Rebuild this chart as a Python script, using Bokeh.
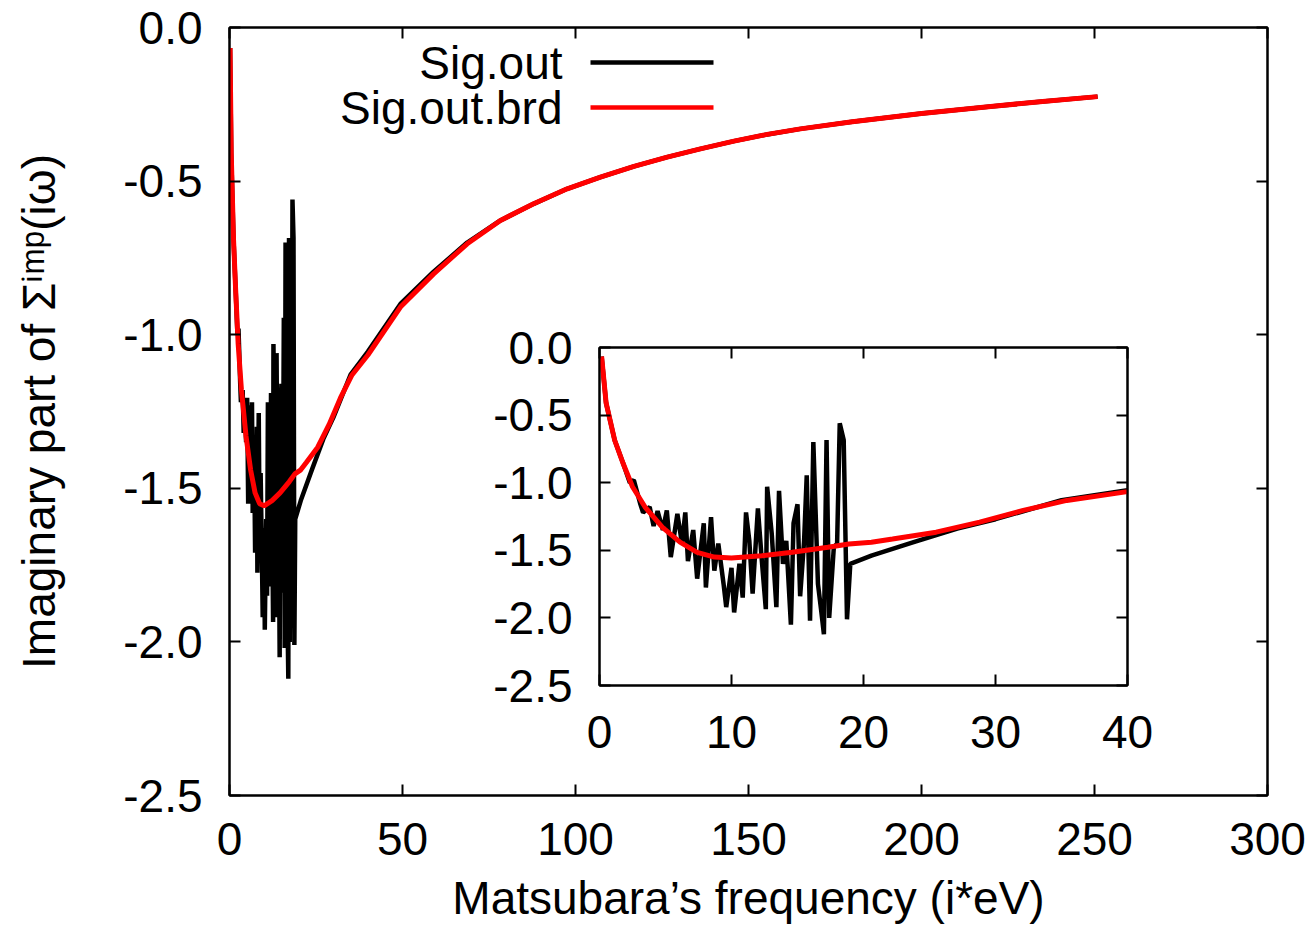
from bokeh.plotting import figure
from bokeh.models import (Range1d, LinearAxis, FixedTicker, PrintfTickFormatter, Label,
                          Arrow, GridBox)
from bokeh.embed import file_html
from bokeh.resources import INLINE

# ---------------- data ----------------
sig_x = [0.16, 0.5, 1.15, 1.8, 2.3, 2.6, 3.1, 3.3, 3.8, 4.1, 4.4, 4.8, 5.1, 5.4, 5.9,
         6.25, 6.5, 6.7, 7.1, 7.4, 7.9, 8.06, 8.45, 8.7, 9.0, 9.4, 9.6, 10.0, 10.2,
         10.6, 10.85, 11.1, 11.35, 11.6, 12.0, 12.3, 12.6, 12.7, 13.05, 13.4, 13.6,
         13.9, 14.15, 14.5, 14.7, 15.0, 15.2, 15.5, 15.7, 15.95, 16.2, 16.55, 16.8,
         17.0, 17.2, 17.4, 17.75, 18.0, 18.2, 18.5, 18.75, 19.0, 20.6, 23.8, 27.1,
         30.0, 35.0, 40.0, 49.4, 59.0, 68.7, 78.3, 87.9, 97.6, 107.2, 116.9, 126.5,
         136.1, 145.8, 155.4, 165.0, 180.0, 200.0, 220.0, 235.0, 250.9]
sig_y = [-0.067, -0.41, -0.686, -0.86, -1.0, -0.98, -1.16, -1.22, -1.18, -1.32, -1.21,
         -1.35, -1.205, -1.55, -1.23, -1.45, -1.22, -1.58, -1.35, -1.71, -1.30, -1.775,
         -1.255, -1.65, -1.45, -1.75, -1.92, -1.63, -1.96, -1.60, -1.85, -1.22, -1.43,
         -1.82, -1.19, -1.58, -1.935, -1.03, -1.38, -1.92, -1.06, -1.60, -1.43, -2.05,
         -1.30, -1.16, -1.84, -1.43, -0.945, -2.02, -0.70, -1.75, -1.95, -2.12, -0.685,
         -2.0, -1.48, -1.45, -0.56, -0.685, -2.01, -1.60, -1.54, -1.44, -1.34,
         -1.27, -1.13, -1.055, -0.90, -0.795, -0.70, -0.628, -0.574, -0.525, -0.487,
         -0.452, -0.422, -0.395, -0.370, -0.348, -0.330, -0.307, -0.280, -0.257,
         -0.241, -0.225]

brd_x = [0.16, 0.5, 1.15, 1.8, 2.5, 3.45, 4.77, 6.1, 7.4, 8.7, 10.0, 12.3, 14.6, 17.3,
         18.9, 20.6, 22.2, 25.5, 28.8, 32.1, 35.4, 40.0, 49.4, 59.0, 68.7, 78.3, 87.9,
         97.6, 107.2, 116.9, 126.5, 136.1, 145.8, 155.4, 165.0, 180.0, 200.0, 220.0,
         235.0, 250.9]
brd_y = [-0.067, -0.41, -0.686, -0.86, -1.03, -1.18, -1.33, -1.44, -1.515, -1.55,
         -1.557, -1.54, -1.515, -1.478, -1.453, -1.44, -1.416, -1.366, -1.292, -1.205,
         -1.131, -1.066, -0.910, -0.802, -0.704, -0.628, -0.574, -0.525, -0.487,
         -0.452, -0.422, -0.395, -0.370, -0.348, -0.330, -0.307, -0.280, -0.257,
         -0.241, -0.225]

main_xticks = [0, 50, 100, 150, 200, 250, 300]
main_yticks = [0.0, -0.5, -1.0, -1.5, -2.0, -2.5]
inset_xticks = [0, 10, 20, 30, 40]
inset_yticks = [0.0, -0.5, -1.0, -1.5, -2.0, -2.5]

series_names = ["Sig.out", "Sig.out.brd"]
series_colors = ["#000000", "#ff0000"]
x_label = "Matsubara\u2019s frequency (i*eV)"
y_label = "Imaginary part of \u03a3\u2071\u1d50\u1d56(i\u03c9)"

FONT = "Liberation Sans"
FS = "46px"


def style_axes(fig, xticks, yticks, xfmt, yfmt, standoff_x, standoff_y):
    bx = fig.below[0]
    ly = fig.left[0]
    bx.ticker = FixedTicker(ticks=xticks)
    ly.ticker = FixedTicker(ticks=yticks)
    bx.formatter = PrintfTickFormatter(format=xfmt)
    ly.formatter = PrintfTickFormatter(format=yfmt)
    bx.major_label_standoff = standoff_x
    ly.major_label_standoff = standoff_y
    bx.major_label_text_font_size = FS
    ly.major_label_text_font_size = FS
    # mirrored tick marks (no labels) on the top and right, as gnuplot draws them
    top = LinearAxis(ticker=FixedTicker(ticks=xticks), major_label_standoff=0,
                     major_label_text_font_size="8px",
                     major_label_overrides={t: "" for t in xticks})
    right = LinearAxis(ticker=FixedTicker(ticks=yticks), major_label_standoff=0,
                       major_label_text_font_size="8px",
                       major_label_overrides={t: "" for t in yticks})
    fig.add_layout(top, "above")
    fig.add_layout(right, "right")
    for ax in (bx, ly, top, right):
        ax.major_tick_in = 11
        ax.major_tick_out = 0
        ax.minor_tick_line_color = None
        ax.axis_line_width = 2
        ax.axis_line_color = "black"
        ax.major_tick_line_width = 2
        ax.major_tick_line_color = "black"
        ax.major_label_text_font = FONT
        ax.major_label_text_color = "black"
    fig.grid.visible = False
    fig.outline_line_color = "black"
    fig.outline_line_width = 2
    fig.background_fill_color = "white"
    fig.border_fill_color = "white"
    return bx, ly


# ---------------- main figure ----------------
p = figure(width=1307, height=928, output_backend="svg", toolbar_location=None,
           x_range=Range1d(0, 300), y_range=Range1d(-2.5, 0),
           min_border_left=229, min_border_right=40, min_border_top=27,
           min_border_bottom=133)
bx, ly = style_axes(p, main_xticks, main_yticks, "%d", "%.1f", 27, 27)
for ax, txt, so in ((bx, x_label, 14), (ly, y_label, 55)):
    ax.axis_label = txt
    ax.axis_label_text_font = FONT
    ax.axis_label_text_font_size = FS
    ax.axis_label_text_font_style = "normal"
    ax.axis_label_text_color = "black"
    ax.axis_label_standoff = so

p.line(sig_x, sig_y, line_color=series_colors[0], line_width=4.5)
p.line(brd_x, brd_y, line_color=series_colors[1], line_width=5)

# gnuplot-style key: text right-aligned, then sample line
for i, (name, col) in enumerate(zip(series_names, series_colors)):
    yy = 733 - 45 * i
    p.add_layout(Label(x=333, y=yy, x_units="screen", y_units="screen", text=name,
                       text_font=FONT, text_font_size=FS, text_align="right",
                       text_baseline="middle", text_color="black"))
    p.add_layout(Arrow(end=None, x_start=361, y_start=yy, x_end=484, y_end=yy,
                       start_units="screen", end_units="screen",
                       line_color=col, line_width=4.5))

# ---------------- inset figure ----------------
ins = figure(width=671, height=441, output_backend="svg", toolbar_location=None,
             x_range=Range1d(0, 40), y_range=Range1d(-2.5, 0),
             min_border_left=110, min_border_right=33, min_border_top=25,
             min_border_bottom=78)
style_axes(ins, inset_xticks, inset_yticks, "%d", "%.1f", 30, 27)
ins.line(sig_x, sig_y, line_color=series_colors[0], line_width=4.5)
ins.line(brd_x, brd_y, line_color=series_colors[1], line_width=5)

layout = GridBox(children=[(p, 0, 0, 3, 3), (ins, 1, 1, 1, 1)],
                 rows=["322px", "441px", "165px"],
                 cols=["489px", "671px", "147px"], spacing=0)
open("out.html", "w").write(file_html(layout, INLINE))
